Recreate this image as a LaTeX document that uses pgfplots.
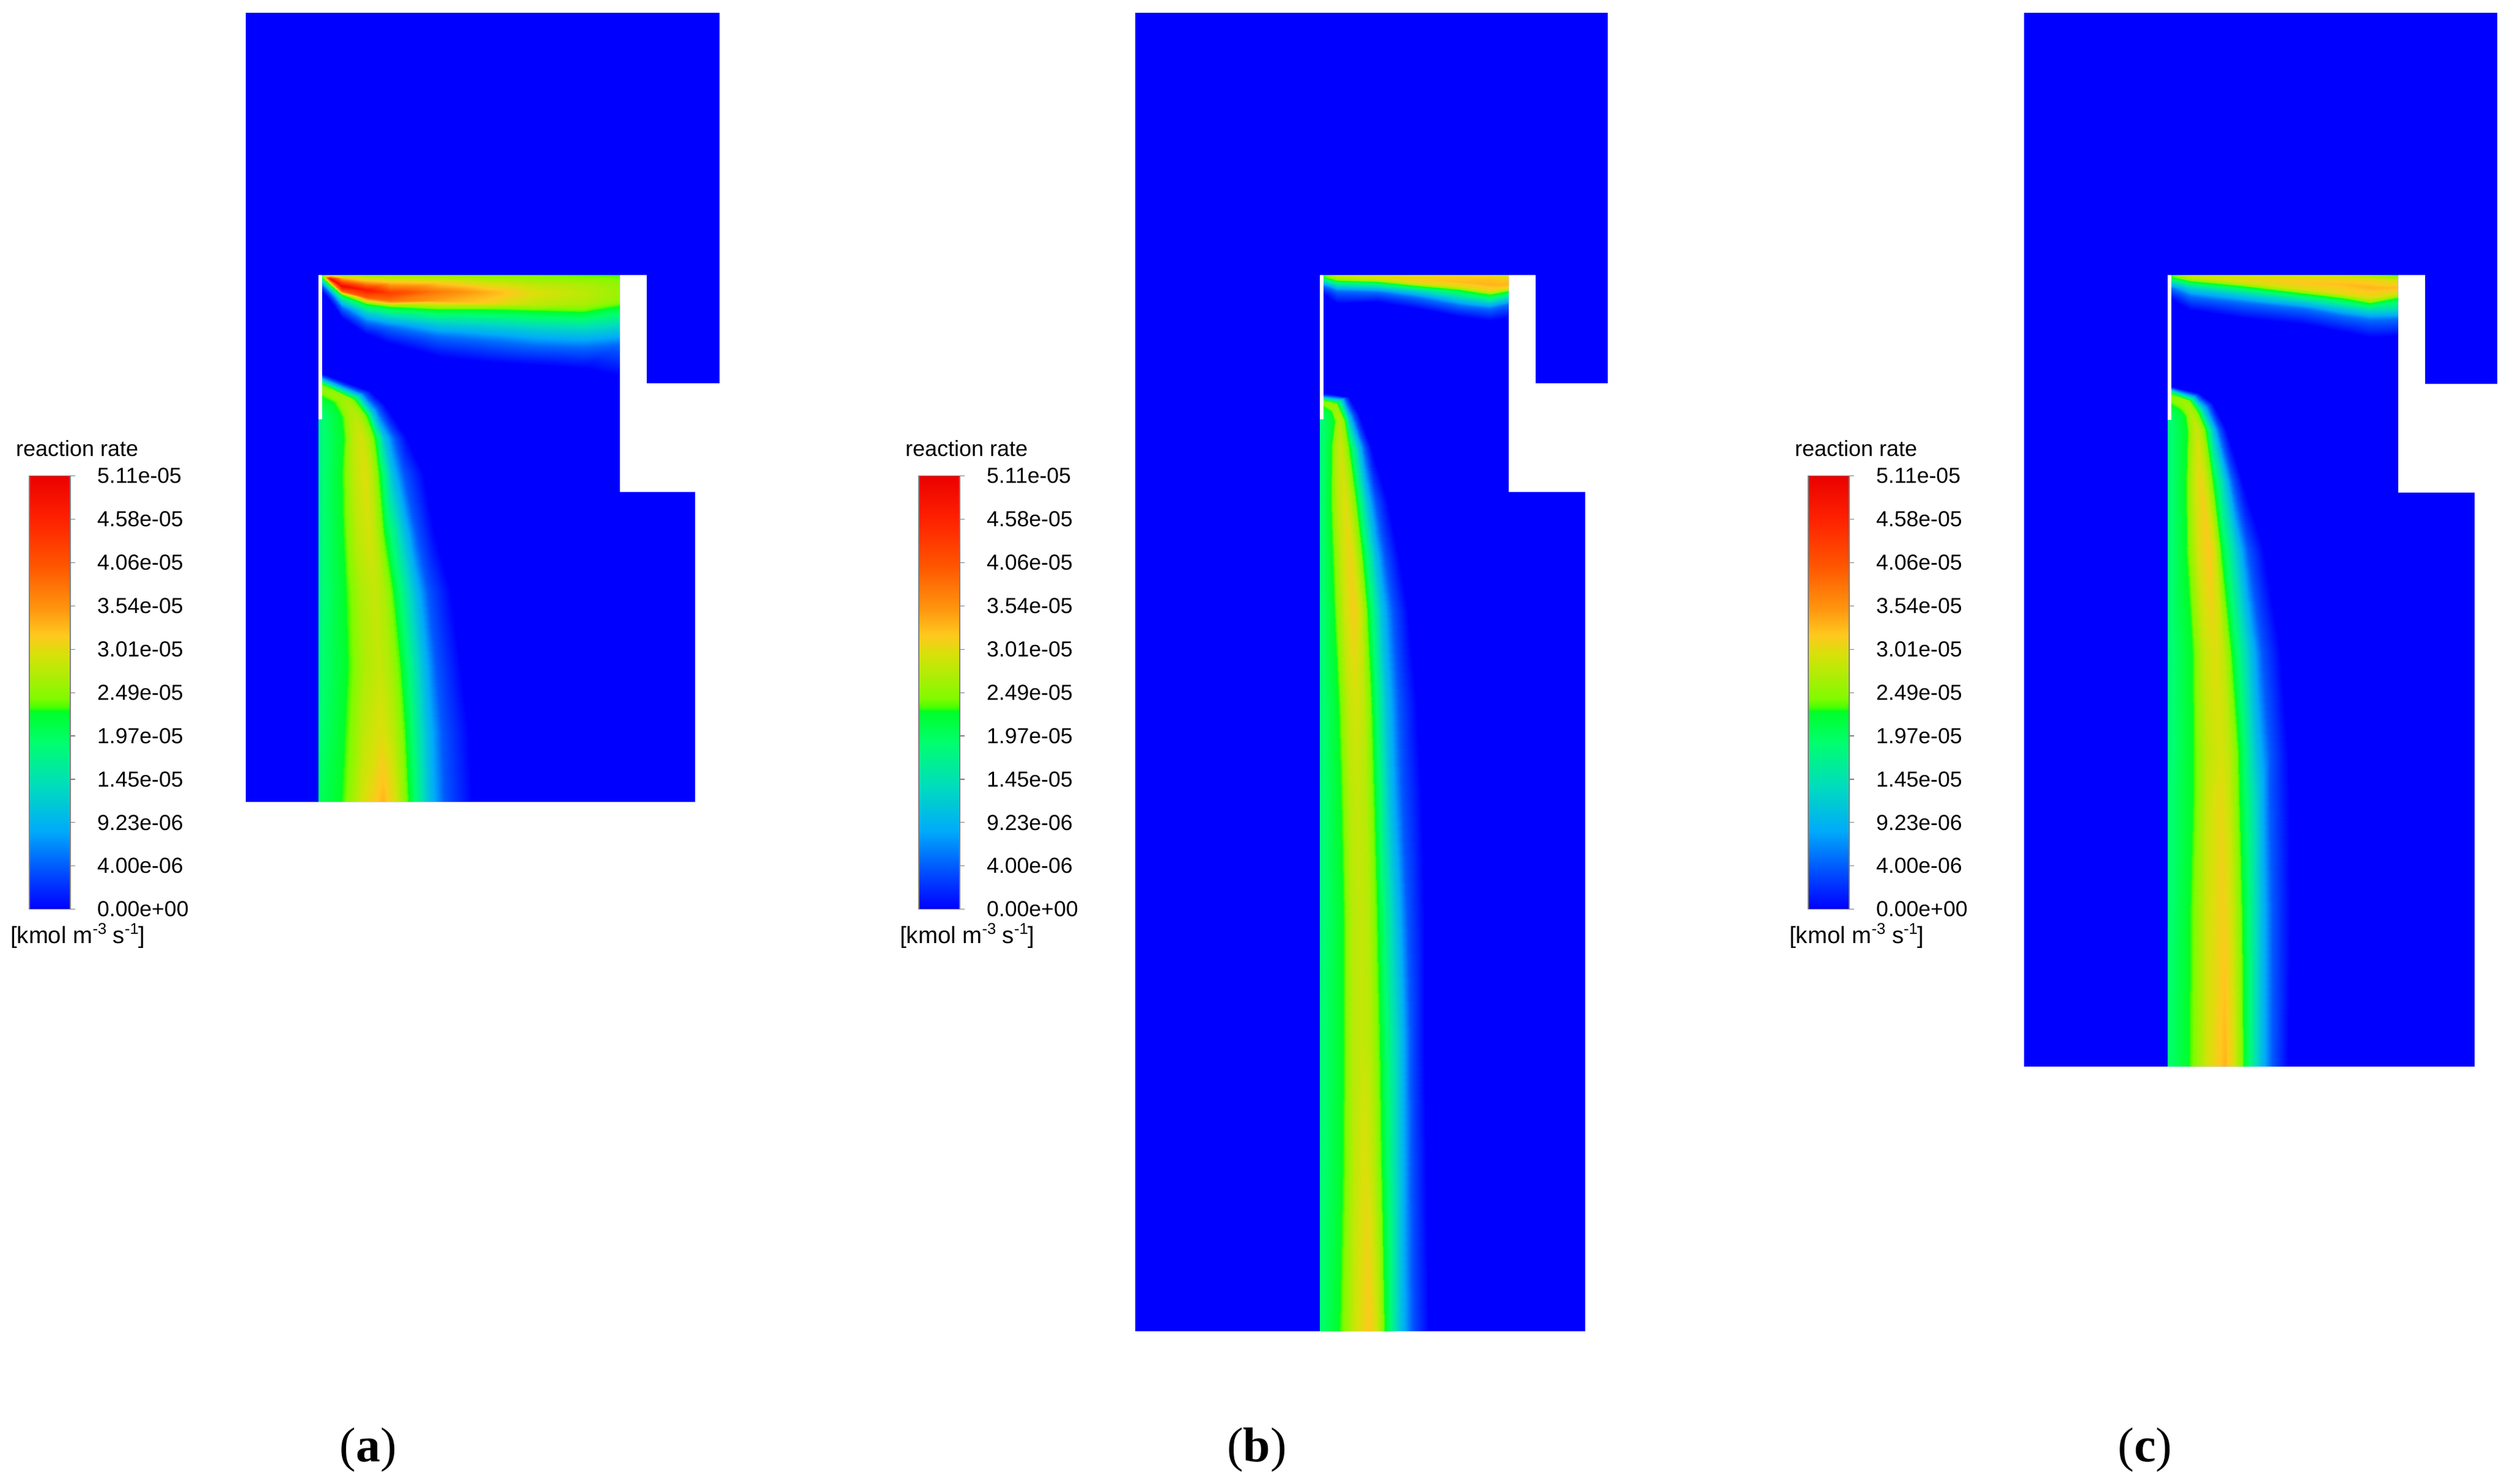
\documentclass[border=0pt]{standalone}
\usepackage{pgfplots}
\pgfplotsset{compat=1.18}
\usepackage{fontspec}
\setmainfont{Liberation Sans}
\newfontfamily\serif{Liberation Serif}
\definecolor{cfdblue}{RGB}{0,0,255}
\pgfplotsset{colormap={fluent}{
 rgb255(0cm)=(0,0,255); rgb255(0.4cm)=(0,70,255); rgb255(0.923cm)=(0,170,250);
 rgb255(1.45cm)=(0,220,190); rgb255(1.97cm)=(0,255,110); rgb255(2.34cm)=(0,255,40);
 rgb255(2.38cm)=(70,255,0); rgb255(2.49cm)=(130,250,0); rgb255(3.01cm)=(215,225,10);
 rgb255(3.24cm)=(255,200,30); rgb255(3.54cm)=(255,150,15); rgb255(4.06cm)=(255,85,0);
 rgb255(4.58cm)=(255,35,0); rgb255(5.11cm)=(235,0,0)}}
\pgfplotsset{field/.style={surf,shader=interp,point meta=explicit,mesh/cols=#1}}
\newcommand\cbarlabels[3]{%
 \node[anchor=west,font=\fontsize{9pt}{10pt}\selectfont] at (axis cs:#2,734) {reaction rate};
 \node[anchor=west,font=\fontsize{9.6pt}{10pt}\selectfont] at (axis cs:#3,1531) {[kmol m\raisebox{.4em}{\fontsize{6.4pt}{6pt}\selectfont -3} s\raisebox{.4em}{\fontsize{6.4pt}{6pt}\selectfont -1}]};
 \node[anchor=west,font=\fontsize{8.9pt}{10pt}\selectfont] at (axis cs:#1,778.6) {5.11e-05};
 \node[anchor=west,font=\fontsize{8.9pt}{10pt}\selectfont] at (axis cs:#1,849.5) {4.58e-05};
 \node[anchor=west,font=\fontsize{8.9pt}{10pt}\selectfont] at (axis cs:#1,920.4) {4.06e-05};
 \node[anchor=west,font=\fontsize{8.9pt}{10pt}\selectfont] at (axis cs:#1,991.3) {3.54e-05};
 \node[anchor=west,font=\fontsize{8.9pt}{10pt}\selectfont] at (axis cs:#1,1062.2) {3.01e-05};
 \node[anchor=west,font=\fontsize{8.9pt}{10pt}\selectfont] at (axis cs:#1,1133.1) {2.49e-05};
 \node[anchor=west,font=\fontsize{8.9pt}{10pt}\selectfont] at (axis cs:#1,1204) {1.97e-05};
 \node[anchor=west,font=\fontsize{8.9pt}{10pt}\selectfont] at (axis cs:#1,1274.9) {1.45e-05};
 \node[anchor=west,font=\fontsize{8.9pt}{10pt}\selectfont] at (axis cs:#1,1345.8) {9.23e-06};
 \node[anchor=west,font=\fontsize{8.9pt}{10pt}\selectfont] at (axis cs:#1,1416.7) {4.00e-06};
 \node[anchor=west,font=\fontsize{8.9pt}{10pt}\selectfont] at (axis cs:#1,1487.5) {0.00e+00};
}
\begin{document}
\begin{tikzpicture}
\fill[white] (0,0) rectangle (1029.75pt,607pt);
\begin{axis}[
  at={(0,0)},anchor=south west,
  scale only axis,width=1029.75pt,height=607pt,
  xmin=0,xmax=4119,ymin=0,ymax=2428,y dir=reverse,
  hide axis,clip=true,
  colormap name=fluent,point meta min=0,point meta max=5.11,
  /pgf/number format/assume math mode=true]

% ---------- solid domains
\addplot[fill=cfdblue,draw=none] coordinates {(402,21)(1177,21)(1177,627)(1058,627)(1058,450)(1014,450)(1014,805)(1137,805)(1137,1312)(402,1312)} --cycle;
\addplot[fill=cfdblue,draw=none] coordinates {(1857,21)(2630,21)(2630,627)(2512,627)(2512,450)(2468,450)(2468,805)(2593,805)(2593,2178)(1857,2178)} --cycle;
\addplot[fill=cfdblue,draw=none] coordinates {(3311,21)(4085,21)(4085,628)(3967,628)(3967,450)(3923,450)(3923,806)(4048,806)(4048,1745)(3311,1745)} --cycle;

% ---------- (a) upper layer
\addplot[field=8] coordinates {
(527,450)[2.36] (527,450.5)[2.36] (527,451)[2.36] (527,452)[2.36] (527,454)[2.36] (527,460)[1.4] (527,467)[.6] (527,478)[0]
(540,450)[2.6] (540,452)[3.5] (540,456)[4.9] (540,461)[3.5] (540,466)[2.36] (540,473)[1.4] (540,480)[.6] (540,492)[0]
(559,450)[2.6] (559,455)[3.4] (559,468)[5.0] (559,476)[4.0] (559,482)[2.36] (559,492)[1.4] (559,503)[.6] (559,520)[0]
(599,450)[2.6] (599,462)[3.5] (599,474)[4.75] (599,486)[4.0] (599,497)[2.36] (599,510)[1.4] (599,527)[.6] (599,547)[0]
(638,450)[2.6] (638,462)[3.3] (638,479)[4.3] (638,492)[3.8] (638,502)[2.36] (638,518)[1.4] (638,535)[.6] (638,562)[0]
(717,450)[2.55] (717,462)[3.2] (717,477)[3.75] (717,492)[3.45] (717,506)[2.36] (717,527)[1.4] (717,550)[.6] (717,583)[0]
(796,450)[2.5] (796,465)[3.05] (796,478)[3.4] (796,495)[3.2] (796,506)[2.36] (796,530)[1.4] (796,557)[.6] (796,592)[0]
(875,450)[2.45] (875,465)[2.85] (875,480)[3.05] (875,498)[2.85] (875,508)[2.36] (875,535)[1.4] (875,565)[.6] (875,597)[0]
(954,450)[2.4] (954,465)[2.75] (954,480)[2.85] (954,497)[2.75] (954,510)[2.36] (954,538)[1.4] (954,568)[.6] (954,602)[0]
(1013.5,450)[2.36] (1013.5,465)[2.6] (1013.5,478)[2.65] (1013.5,490)[2.6] (1013.5,500)[2.36] (1013.5,533)[1.4] (1013.5,563)[.6] (1013.5,615)[0]
};
% (a) lower plume
\addplot[field=9] coordinates {
(527,658)[1.85] (527,648)[2.36] (527,643)[2.5] (527,638)[2.6] (527,633)[2.5] (527,628)[2.36] (527,621)[1.2] (527,616)[.5] (527,611)[0]
(527,686)[1.85] (547,658)[2.36] (555,655)[2.6] (563,652)[2.7] (572,652)[2.6] (580,653)[2.36] (588,647)[1.2] (595,643)[.5] (606,640)[0]
(521,686)[1.85] (560,682)[2.36] (570,681)[2.72] (580,681)[2.85] (590,680)[2.72] (600,680)[2.36] (609,674)[1.2] (617,667)[.5] (630,663)[0]
(521,716)[1.85] (563,716)[2.36] (576,716)[2.82] (590,716)[3.0] (601,716)[2.82] (613,716)[2.36] (628,716)[1.2] (645,716)[.5] (665,716)[0]
(521,774)[1.85] (560,774)[2.36] (578,774)[2.85] (597,774)[3.05] (608,774)[2.85] (620,774)[2.36] (640,774)[1.2] (660,774)[.5] (692,774)[0]
(521,870)[1.85] (562,870)[2.36] (582,870)[2.82] (603,870)[3.0] (615,870)[2.82] (628,870)[2.36] (660,870)[1.2] (680,870)[.5] (710,870)[0]
(521,968)[1.85] (567,968)[2.36] (590,968)[2.75] (613,968)[2.9] (628,968)[2.75] (643,968)[2.36] (677,968)[1.2] (700,968)[.5] (737,968)[0]
(521,1089)[1.9] (570,1089)[2.36] (595,1089)[2.75] (620,1089)[2.9] (637,1089)[2.75] (655,1089)[2.36] (690,1089)[1.2] (713,1089)[.5] (753,1089)[0]
(521,1200)[1.95] (565,1200)[2.36] (594,1200)[2.85] (623,1200)[3.05] (643,1200)[2.85] (663,1200)[2.36] (697,1200)[1.2] (723,1200)[.5] (767,1200)[0]
(521,1311)[2.05] (560,1311)[2.36] (593,1311)[3.0] (627,1311)[3.35] (647,1311)[3.0] (668,1311)[2.36] (700,1311)[1.2] (727,1311)[.5] (773,1311)[0]
};

% ---------- (b) upper layer
\addplot[field=8] coordinates {
(2165,450)[2.36] (2165,450.5)[2.36] (2165,451)[2.36] (2165,452)[2.36] (2165,453)[2.36] (2165,460)[1.4] (2165,468)[.6] (2165,482)[0]
(2187,450)[2.75] (2187,451)[2.85] (2187,453)[2.9] (2187,456)[2.7] (2187,459)[2.36] (2187,467)[1.4] (2187,476)[.6] (2187,496)[0]
(2253,450)[2.85] (2253,452)[3.0] (2253,454)[3.1] (2253,458)[2.85] (2253,461)[2.36] (2253,469)[1.4] (2253,478)[.6] (2253,494)[0]
(2320,450)[3.0] (2320,454)[3.15] (2320,458)[3.25] (2320,464)[3.0] (2320,468)[2.36] (2320,476)[1.4] (2320,487)[.6] (2320,505)[0]
(2387,450)[3.1] (2387,455)[3.25] (2387,461)[3.3] (2387,469)[3.05] (2387,474)[2.36] (2387,487)[1.4] (2387,500)[.6] (2387,518)[0]
(2437,450)[3.1] (2437,457)[3.3] (2437,466)[3.35] (2437,476)[3.1] (2437,482)[2.36] (2437,494)[1.4] (2437,505)[.6] (2437,525)[0]
(2467.5,450)[2.9] (2467.5,457)[3.25] (2467.5,465)[3.35] (2467.5,472)[3.0] (2467.5,476)[2.36] (2467.5,487)[1.4] (2467.5,498)[.6] (2467.5,520)[0]
};
% (b) lower plume
\addplot[field=9] coordinates {
(2165,683)[1.85] (2165,665)[2.36] (2165,662)[2.5] (2165,660)[2.55] (2165,657)[2.5] (2165,654)[2.36] (2165,650)[1.2] (2165,647)[.5] (2165,643)[0]
(2165,686)[1.85] (2178,673)[2.36] (2180,669)[2.6] (2183,665)[2.7] (2185,662)[2.6] (2187,659)[2.36] (2195,654)[1.2] (2200,651)[.5] (2207,650)[0]
(2159,686)[1.85] (2183,688)[2.36] (2187,688)[2.65] (2192,688)[2.8] (2196,688)[2.65] (2200,688)[2.36] (2207,685)[1.2] (2214,680)[.5] (2222,676)[0]
(2159,732)[1.85] (2178,732)[2.36] (2185,732)[2.75] (2193,732)[2.95] (2200,732)[2.75] (2207,732)[2.36] (2222,732)[1.2] (2232,732)[.5] (2243,732)[0]
(2159,822)[1.85] (2177,822)[2.36] (2188,822)[2.85] (2200,822)[3.05] (2209,822)[2.85] (2219,822)[2.36] (2236,822)[1.2] (2250,822)[.5] (2270,822)[0]
(2159,911)[1.85] (2180,911)[2.36] (2194,911)[2.9] (2208,911)[3.15] (2218,911)[2.9] (2229,911)[2.36] (2249,911)[1.2] (2265,911)[.5] (2288,911)[0]
(2159,1000)[1.85] (2183,1000)[2.36] (2199,1000)[2.95] (2215,1000)[3.2] (2226,1000)[2.95] (2237,1000)[2.36] (2259,1000)[1.2] (2278,1000)[.5] (2303,1000)[0]
(2159,1150)[1.85] (2190,1150)[2.36] (2204,1150)[2.85] (2218,1150)[3.0] (2231,1150)[2.85] (2244,1150)[2.36] (2267,1150)[1.2] (2288,1150)[.5] (2317,1150)[0]
(2159,1300)[1.85] (2194,1300)[2.36] (2207,1300)[2.8] (2220,1300)[2.9] (2234,1300)[2.8] (2248,1300)[2.36] (2272,1300)[1.2] (2293,1300)[.5] (2325,1300)[0]
(2159,1500)[1.85] (2198,1500)[2.36] (2211,1500)[2.8] (2225,1500)[2.9] (2239,1500)[2.8] (2253,1500)[2.36] (2283,1500)[1.2] (2302,1500)[.5] (2330,1500)[0]
(2159,1700)[1.9] (2198,1700)[2.36] (2212,1700)[2.8] (2227,1700)[2.9] (2242,1700)[2.8] (2257,1700)[2.36] (2290,1700)[1.2] (2307,1700)[.5] (2330,1700)[0]
(2159,1900)[1.9] (2197,1900)[2.36] (2215,1900)[2.85] (2232,1900)[3.05] (2246,1900)[2.85] (2260,1900)[2.36] (2290,1900)[1.2] (2308,1900)[.5] (2333,1900)[0]
(2159,2177)[1.95] (2192,2177)[2.36] (2216,2177)[2.95] (2240,2177)[3.25] (2253,2177)[2.95] (2265,2177)[2.36] (2290,2177)[1.2] (2310,2177)[.5] (2337,2177)[0]
};

% ---------- (c) upper layer
\addplot[field=8] coordinates {
(3552,450)[2.36] (3552,450.5)[2.36] (3552,451)[2.36] (3552,452)[2.36] (3552,453)[2.36] (3552,462)[1.4] (3552,472)[.6] (3552,490)[0]
(3583,450)[2.75] (3583,451)[2.85] (3583,453)[2.95] (3583,456)[2.8] (3583,460)[2.36] (3583,470)[1.4] (3583,485)[.6] (3583,507)[0]
(3667,450)[2.85] (3667,453)[3.0] (3667,457)[3.15] (3667,463)[2.9] (3667,468)[2.36] (3667,480)[1.4] (3667,495)[.6] (3667,520)[0]
(3767,450)[2.9] (3767,456)[3.15] (3767,462)[3.25] (3767,473)[3.05] (3767,480)[2.36] (3767,492)[1.4] (3767,505)[.6] (3767,530)[0]
(3833,450)[2.85] (3833,456)[3.15] (3833,465)[3.3] (3833,480)[3.1] (3833,488)[2.36] (3833,502)[1.4] (3833,517)[.6] (3833,543)[0]
(3877,450)[2.7] (3877,458)[3.15] (3877,470)[3.35] (3877,487)[3.05] (3877,496)[2.36] (3877,508)[1.4] (3877,523)[.6] (3877,552)[0]
(3922.5,450)[2.36] (3922.5,458)[3.0] (3922.5,470)[3.3] (3922.5,481)[2.95] (3922.5,487)[2.36] (3922.5,507)[1.4] (3922.5,522)[.6] (3922.5,550)[0]
};
% (c) lower plume
\addplot[field=9] coordinates {
(3552,677)[1.85] (3552,661)[2.36] (3552,656)[2.5] (3552,652)[2.55] (3552,648)[2.5] (3552,644)[2.36] (3552,638)[1.2] (3552,635)[.5] (3552,632)[0]
(3552,686)[1.85] (3567,670)[2.36] (3571,664)[2.6] (3575,658)[2.7] (3579,656)[2.6] (3583,655)[2.36] (3588,650)[1.2] (3592,646)[.5] (3597,643)[0]
(3546,687)[1.85] (3575,680)[2.36] (3580,678)[2.65] (3585,677)[2.8] (3590,675)[2.65] (3596,674)[2.36] (3604,668)[1.2] (3612,663)[.5] (3620,660)[0]
(3546,703)[1.85] (3578,703)[2.36] (3586,703)[2.75] (3594,703)[2.95] (3601,703)[2.75] (3608,703)[2.36] (3620,703)[1.2] (3630,703)[.5] (3642,703)[0]
(3546,787)[1.85] (3576,787)[2.36] (3588,787)[2.9] (3600,787)[3.15] (3610,787)[2.9] (3620,787)[2.36] (3640,787)[1.2] (3652,787)[.5] (3668,787)[0]
(3546,900)[1.85] (3577,900)[2.36] (3595,900)[3.0] (3613,900)[3.25] (3623,900)[3.0] (3633,900)[2.36] (3660,900)[1.2] (3677,900)[.5] (3703,900)[0]
(3546,1067)[1.85] (3587,1067)[2.36] (3605,1067)[2.9] (3623,1067)[3.05] (3636,1067)[2.9] (3650,1067)[2.36] (3680,1067)[1.2] (3700,1067)[.5] (3730,1067)[0]
(3546,1233)[1.85] (3588,1233)[2.36] (3610,1233)[2.85] (3633,1233)[3.0] (3647,1233)[2.85] (3662,1233)[2.36] (3690,1233)[1.2] (3713,1233)[.5] (3743,1233)[0]
(3546,1300)[1.9] (3588,1300)[2.36] (3610,1300)[2.9] (3632,1300)[3.1] (3647,1300)[2.9] (3663,1300)[2.36] (3695,1300)[1.2] (3713,1300)[.5] (3745,1300)[0]
(3546,1500)[1.9] (3583,1500)[2.36] (3610,1500)[2.95] (3637,1500)[3.2] (3652,1500)[2.95] (3668,1500)[2.36] (3697,1500)[1.2] (3717,1500)[.5] (3747,1500)[0]
(3546,1744)[1.95] (3582,1744)[2.36] (3611,1744)[3.0] (3640,1744)[3.35] (3655,1744)[3.0] (3670,1744)[2.36] (3697,1744)[1.2] (3717,1744)[.5] (3743,1744)[0]
};

% ---------- white slits
\addplot[fill=white,draw=none] coordinates {(521,450)(527,450)(527,686)(521,686)} --cycle;
\addplot[fill=white,draw=none] coordinates {(2159,450)(2165,450)(2165,686)(2159,686)} --cycle;
\addplot[fill=white,draw=none] coordinates {(3546,450)(3552,450)(3552,687)(3546,687)} --cycle;

% ---------- colour bars
\addplot[field=2] coordinates {(48,1487.5)[0] (115,1487.5)[0] (48,778.6)[5.11] (115,778.6)[5.11]};
\addplot[field=2] coordinates {(1503,1487.5)[0] (1570,1487.5)[0] (1503,778.6)[5.11] (1570,778.6)[5.11]};
\addplot[field=2] coordinates {(2958,1487.5)[0] (3025,1487.5)[0] (2958,778.6)[5.11] (3025,778.6)[5.11]};
\addplot[draw=gray,line width=.3pt] coordinates {(48,778.6)(115,778.6)(115,1487.5)(48,1487.5)} --cycle;
\addplot[draw=gray,line width=.3pt] coordinates {(1503,778.6)(1570,778.6)(1570,1487.5)(1503,1487.5)} --cycle;
\addplot[draw=gray,line width=.3pt] coordinates {(2958,778.6)(3025,778.6)(3025,1487.5)(2958,1487.5)} --cycle;
\addplot[draw=gray,line width=.3pt,unbounded coords=jump] coordinates {
(115,778.6)(123,778.6)(nan,nan)(115,849.5)(123,849.5)(nan,nan)(115,920.4)(123,920.4)(nan,nan)(115,991.3)(123,991.3)(nan,nan)(115,1062.2)(123,1062.2)(nan,nan)(115,1133.1)(123,1133.1)(nan,nan)(115,1204)(123,1204)(nan,nan)(115,1274.9)(123,1274.9)(nan,nan)(115,1345.8)(123,1345.8)(nan,nan)(115,1416.7)(123,1416.7)(nan,nan)(115,1487.5)(123,1487.5)};
\addplot[draw=gray,line width=.3pt,unbounded coords=jump] coordinates {
(1570,778.6)(1578,778.6)(nan,nan)(1570,849.5)(1578,849.5)(nan,nan)(1570,920.4)(1578,920.4)(nan,nan)(1570,991.3)(1578,991.3)(nan,nan)(1570,1062.2)(1578,1062.2)(nan,nan)(1570,1133.1)(1578,1133.1)(nan,nan)(1570,1204)(1578,1204)(nan,nan)(1570,1274.9)(1578,1274.9)(nan,nan)(1570,1345.8)(1578,1345.8)(nan,nan)(1570,1416.7)(1578,1416.7)(nan,nan)(1570,1487.5)(1578,1487.5)};
\addplot[draw=gray,line width=.3pt,unbounded coords=jump] coordinates {
(3025,778.6)(3033,778.6)(nan,nan)(3025,849.5)(3033,849.5)(nan,nan)(3025,920.4)(3033,920.4)(nan,nan)(3025,991.3)(3033,991.3)(nan,nan)(3025,1062.2)(3033,1062.2)(nan,nan)(3025,1133.1)(3033,1133.1)(nan,nan)(3025,1204)(3033,1204)(nan,nan)(3025,1274.9)(3033,1274.9)(nan,nan)(3025,1345.8)(3033,1345.8)(nan,nan)(3025,1416.7)(3033,1416.7)(nan,nan)(3025,1487.5)(3033,1487.5)};

\cbarlabels{145}{12}{3}
\cbarlabels{1600}{1467}{1458}
\cbarlabels{3055}{2922}{2913}

% ---------- panel letters
\node[font=\fontsize{20pt}{22pt}\selectfont\serif] at (axis cs:602,2372) {(\textbf{a})};
\node[font=\fontsize{20pt}{22pt}\selectfont\serif] at (axis cs:2056,2372) {(\textbf{b})};
\node[font=\fontsize{20pt}{22pt}\selectfont\serif] at (axis cs:3509,2372) {(\textbf{c})};
\end{axis}
\path[use as bounding box] (0,0) rectangle (1029.75pt,607pt);
\end{tikzpicture}
\end{document}
